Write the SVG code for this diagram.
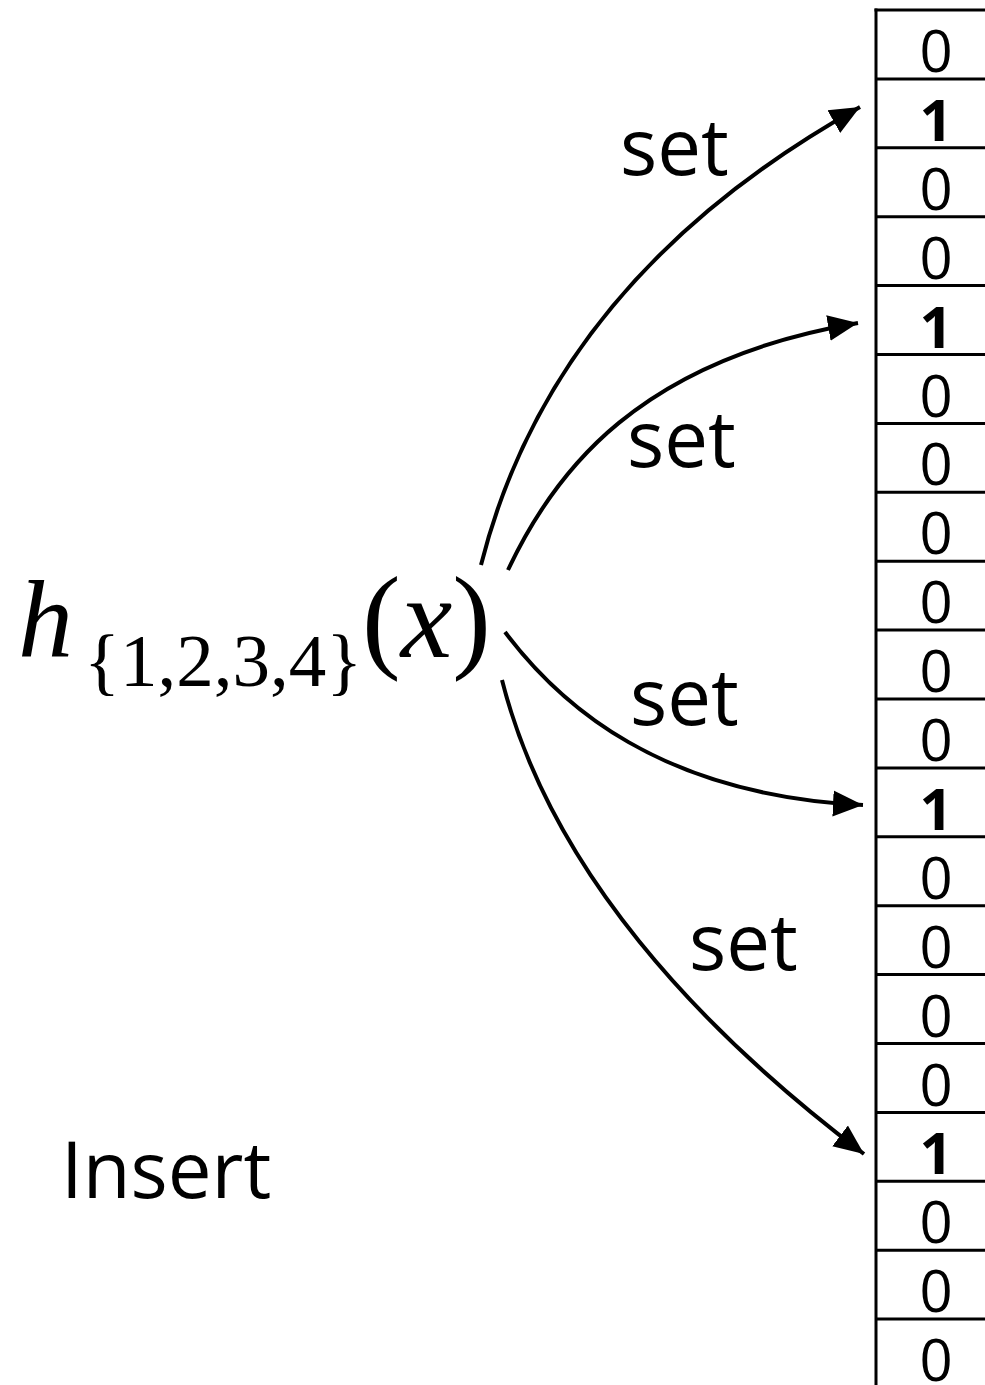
<svg xmlns="http://www.w3.org/2000/svg" width="985" height="1385" viewBox="0 0 985 1385">
<style>
.lbl{font-family:"Open Sans","Noto Sans","Liberation Sans",sans-serif;font-size:78px;fill:#000}
.bit{font-family:"Open Sans","Noto Sans","Liberation Sans",sans-serif;font-size:58px;fill:#000;text-anchor:middle}
.b1{font-weight:bold}
.grid{stroke:#000;stroke-width:3;fill:none}
.arr{stroke:#000;stroke-width:4;fill:none;marker-end:url(#ah)}
.math{font-family:"Liberation Serif","Times New Roman",serif;fill:#000}
</style>
<defs>
<marker id="ah" markerUnits="userSpaceOnUse" markerWidth="32" markerHeight="28" viewBox="0 0 32 28" refX="30" refY="14" orient="auto">
<path d="M0,1 L30,14 L0,27 Z" fill="#000"/>
</marker>
</defs>
<rect width="985" height="1385" fill="#fff"/>
<g id="table">
<line class="grid" x1="876" y1="8.5" x2="876" y2="1385"/>
<line class="grid" x1="874.5" y1="10" x2="985" y2="10"/>
<line class="grid" x1="876" y1="78.9" x2="985" y2="78.9"/>
<line class="grid" x1="876" y1="147.8" x2="985" y2="147.8"/>
<line class="grid" x1="876" y1="216.7" x2="985" y2="216.7"/>
<line class="grid" x1="876" y1="285.6" x2="985" y2="285.6"/>
<line class="grid" x1="876" y1="354.5" x2="985" y2="354.5"/>
<line class="grid" x1="876" y1="423.4" x2="985" y2="423.4"/>
<line class="grid" x1="876" y1="492.3" x2="985" y2="492.3"/>
<line class="grid" x1="876" y1="561.2" x2="985" y2="561.2"/>
<line class="grid" x1="876" y1="630.1" x2="985" y2="630.1"/>
<line class="grid" x1="876" y1="699" x2="985" y2="699"/>
<line class="grid" x1="876" y1="767.9" x2="985" y2="767.9"/>
<line class="grid" x1="876" y1="836.8" x2="985" y2="836.8"/>
<line class="grid" x1="876" y1="905.7" x2="985" y2="905.7"/>
<line class="grid" x1="876" y1="974.6" x2="985" y2="974.6"/>
<line class="grid" x1="876" y1="1043.5" x2="985" y2="1043.5"/>
<line class="grid" x1="876" y1="1112.4" x2="985" y2="1112.4"/>
<line class="grid" x1="876" y1="1181.3" x2="985" y2="1181.3"/>
<line class="grid" x1="876" y1="1250.2" x2="985" y2="1250.2"/>
<line class="grid" x1="876" y1="1319.1" x2="985" y2="1319.1"/>
<text class="bit" x="936" y="72">0</text>
<text class="bit b1" x="936" y="140.9">1</text>
<text class="bit" x="936" y="209.8">0</text>
<text class="bit" x="936" y="278.7">0</text>
<text class="bit b1" x="936" y="347.6">1</text>
<text class="bit" x="936" y="416.5">0</text>
<text class="bit" x="936" y="485.4">0</text>
<text class="bit" x="936" y="554.3">0</text>
<text class="bit" x="936" y="623.2">0</text>
<text class="bit" x="936" y="692.1">0</text>
<text class="bit" x="936" y="761">0</text>
<text class="bit b1" x="936" y="829.9">1</text>
<text class="bit" x="936" y="898.8">0</text>
<text class="bit" x="936" y="967.7">0</text>
<text class="bit" x="936" y="1036.6">0</text>
<text class="bit" x="936" y="1105.5">0</text>
<text class="bit b1" x="936" y="1174.4">1</text>
<text class="bit" x="936" y="1243.3">0</text>
<text class="bit" x="936" y="1312.2">0</text>
<text class="bit" x="936" y="1381.1">0</text>
</g>
<g id="hash">
<text class="math" x="18" y="657" font-size="110" font-style="italic">h</text>
<text class="math" x="84" y="686" font-size="75">{1,2,3,4}</text>
<text class="math" x="362" y="657" font-size="116">(<tspan font-style="italic">x</tspan>)</text>
</g>
<g id="insert">
<text class="lbl" x="61" y="1198" font-size="83">Insert</text>
</g>
<g id="connectors">
<path class="arr" d="M481,565 C525,390 640,230 860,107"/>
<path class="arr" d="M508,570 C555,470 640,360 858,323"/>
<path class="arr" d="M505,632 C560,705 660,795 863,805"/>
<path class="arr" d="M502,680 C550,870 700,1030 864,1154"/>
</g>
<g id="labels">
<text class="lbl" x="620" y="175">set</text>
<text class="lbl" x="627" y="467">set</text>
<text class="lbl" x="630" y="725">set</text>
<text class="lbl" x="689" y="970">set</text>
</g>
</svg>
